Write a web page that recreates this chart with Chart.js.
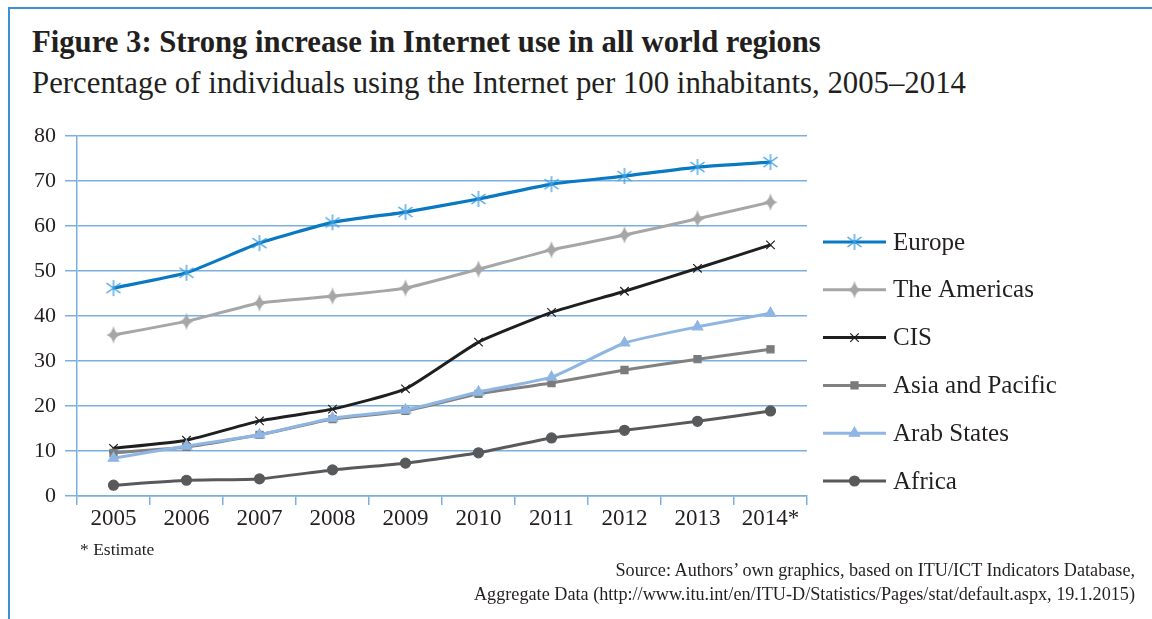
<!DOCTYPE html>
<html>
<head>
<meta charset="utf-8">
<script src="https://cdn.jsdelivr.net/npm/chart.js@4"></script>
<style>
  body { margin: 0; background: #fff; }
  #wrap { position: relative; width: 1152px; height: 619px; overflow: hidden; font-family: "Liberation Serif", "DejaVu Serif", serif; color: #231f20; }
  #frame { position: absolute; left: 8px; top: 7px; right: -10px; bottom: -10px; border-left: 2px solid #3d91d2; border-top: 2px solid #3d91d2; }
  #title { position: absolute; left: 32px; top: 25px; font-size: 30.7px; font-weight: bold; white-space: nowrap; }
  #subtitle { position: absolute; left: 32px; top: 66px; font-size: 30.8px; white-space: nowrap; }
  #note { position: absolute; left: 80px; top: 539px; font-size: 17.5px; }
  #source { position: absolute; right: 17px; top: 558px; font-size: 18.2px; text-align: right; line-height: 24px; }
  canvas { position: absolute; left: 0; top: 0; }
</style>
</head>
<body>
<div id="wrap">
  <div id="frame"></div>
  <div id="title">Figure 3: Strong increase in Internet use in all world regions</div>
  <div id="subtitle">Percentage of individuals using the Internet per 100 inhabitants, 2005–2014</div>
  <canvas id="chart" width="1152" height="619"></canvas>
  <div id="note">* Estimate</div>
  <div id="source">Source: Authors’ own graphics, based on ITU/ICT Indicators Database,<br>Aggregate Data (http://www.itu.int/en/ITU-D/Statistics/Pages/stat/default.aspx, 19.1.2015)</div>
</div>
<script>
// values
const years = ["2005", "2006", "2007", "2008", "2009", "2010", "2011", "2012", "2013", "2014*"];
const europe = [46.2, 49.6, 56.2, 60.8, 63.1, 66.0, 69.3, 71.1, 73.1, 74.2];
const americas = [35.8, 38.8, 42.9, 44.4, 46.2, 50.4, 54.7, 58.0, 61.6, 65.3];
const cis = [10.6, 12.4, 16.7, 19.3, 23.8, 34.2, 40.8, 45.5, 50.6, 55.8];
const asiaPacific = [9.6, 10.9, 13.6, 17.1, 18.9, 22.7, 25.1, 28.0, 30.4, 32.6];
const arabStates = [8.4, 11.1, 13.6, 17.3, 19.1, 23.1, 26.4, 34.0, 37.6, 40.6];
const africa = [2.4, 3.5, 3.8, 5.8, 7.3, 9.6, 12.9, 14.6, 16.6, 18.9];
const yTicks = [0, 10, 20, 30, 40, 50, 60, 70, 80];

const gridBlue = "#7bb0de";
const textColor = "#231f20";

function markerCanvas(size, draw) {
    const c = document.createElement("canvas");
    c.width = size;
    c.height = size;
    draw(c.getContext("2d"), size / 2);
    return c;
}

// Excel style asterisk
const asterisk = markerCanvas(18, function(ctx, m) {
    ctx.strokeStyle = "#3a9ce0";
    ctx.lineWidth = 1.3;
    ctx.beginPath();
    ctx.moveTo(m, 1); ctx.lineTo(m, 17);
    ctx.moveTo(m - 7, m - 5); ctx.lineTo(m + 7, m + 5);
    ctx.moveTo(m - 7, m + 5); ctx.lineTo(m + 7, m - 5);
    ctx.stroke();
});

// four pointed star with curved sides
const fourStar = markerCanvas(20, function(ctx, m) {
    ctx.fillStyle = "#a6a6a8";
    ctx.beginPath();
    ctx.moveTo(m, m - 9);
    ctx.quadraticCurveTo(m + 1.5, m - 1.5, m + 7, m);
    ctx.quadraticCurveTo(m + 1.5, m + 1.5, m, m + 9);
    ctx.quadraticCurveTo(m - 1.5, m + 1.5, m - 7, m);
    ctx.quadraticCurveTo(m - 1.5, m - 1.5, m, m - 9);
    ctx.fill();
});

function series(label, data, color, pointColor, style, radius, order, width) {
    return {
        label: label,
        data: data,
        borderColor: color,
        backgroundColor: pointColor,
        pointBorderColor: pointColor,
        pointBackgroundColor: pointColor,
        pointStyle: style,
        pointRadius: radius,
        pointBorderWidth: 1.2,
        borderWidth: width || 3,
        tension: 0.15,
        order: order
    };
}

const datasets = [
    series("Europe", europe, "#0a79c4", "#3a9ce0", asterisk, 8, 6, 3.2),
    series("The Americas", americas, "#a6a6a8", "#a6a6a8", fourStar, 9, 5),
    series("CIS", cis, "#1f1f1f", "#1f1f1f", "crossRot", 6, 4),
    series("Asia and Pacific", asiaPacific, "#818182", "#7b7b7c", "rect", 5, 3),
    series("Arab States", arabStates, "#8fb6e3", "#8fb6e3", "triangle", 6, 2),
    series("Africa", africa, "#58595b", "#58595b", "circle", 5, 1)
];

// legend: line with marker in the middle, like the original
const sideLegend = {
    id: "sideLegend",
    afterDraw(chart) {
        const ctx = chart.ctx;
        const x0 = 823, x1 = 886, top = 242, step = 47.8;
        chart.data.datasets.forEach(function(ds, i) {
            const y = top + i * step;
            ctx.save();
            ctx.strokeStyle = ds.borderColor;
            ctx.lineWidth = 3;
            ctx.beginPath();
            ctx.moveTo(x0, y);
            ctx.lineTo(x1, y);
            ctx.stroke();
            ctx.fillStyle = ds.pointBackgroundColor;
            ctx.strokeStyle = ds.pointBorderColor;
            ctx.lineWidth = ds.pointBorderWidth;
            Chart.helpers.drawPoint(ctx, {
                pointStyle: ds.pointStyle,
                radius: ds.pointRadius,
                borderWidth: ds.pointBorderWidth,
                rotation: 0
            }, (x0 + x1) / 2, y);
            ctx.fillStyle = textColor;
            ctx.font = "25px 'Liberation Serif'";
            ctx.textBaseline = "middle";
            ctx.fillText(ds.label, 893, y + 1);
            ctx.restore();
        });
    }
};

new Chart(document.getElementById("chart"), {
    type: "line",
    data: { labels: years, datasets: datasets },
    plugins: [sideLegend],
    options: {
        responsive: false,
        animation: false,
        layout: { padding: { left: 0, top: 136, right: 345, bottom: 0 } },
        plugins: { legend: { display: false }, tooltip: { enabled: false } },
        scales: {
            x: {
                offset: true,
                grid: {
                    offset: true,
                    color: ctx => ctx.index === years.length ? gridBlue : "transparent",
                    tickColor: gridBlue,
                    lineWidth: 1.5,
                    tickLength: 9
                },
                border: { color: gridBlue, width: 1.5 },
                ticks: { color: textColor, font: { family: "Liberation Serif", size: 23 }, padding: 0, maxRotation: 0 },
                afterFit: scale => { scale.height = 123; }
            },
            y: {
                min: 0,
                max: 80,
                afterBuildTicks: scale => { scale.ticks = yTicks.map(v => ({ value: v })); },
                grid: { color: gridBlue, lineWidth: 1.5, tickLength: 12 },
                border: { color: gridBlue, width: 1.5 },
                ticks: { color: textColor, font: { family: "Liberation Serif", size: 22 }, padding: 9 },
                afterFit: scale => { scale.width = 77; }
            }
        }
    }
});
</script>
</body>
</html>
